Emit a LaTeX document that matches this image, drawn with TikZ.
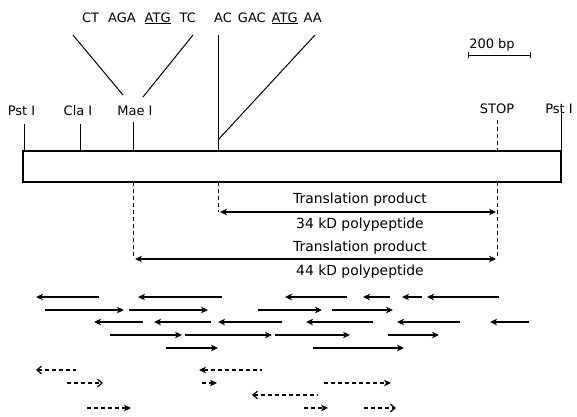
\documentclass[tikz,border=0pt]{standalone}
\usepackage{fontspec}
\setmainfont{DejaVu Sans}
\usetikzlibrary{arrows.meta}
\begin{document}
\begin{tikzpicture}[x=1pt,y=-1pt, line width=1pt,
  lab/.style={font=\fontsize{13}{14}\selectfont, inner sep=0pt, anchor=base},
  tl/.style={font=\fontsize{13.9}{15}\selectfont, inner sep=0pt, anchor=base},
  dsh/.style={dash pattern=on 4pt off 3pt},
  hd/.tip={Stealth[length=7pt,width=6.5pt,inset=2pt]},
  od/.tip={Straight Barb[length=4.5pt,width=7.5pt]},
  seqr/.style={line width=1.3pt,-hd},
  seql/.style={line width=1.3pt,hd-},
  dr/.style={line width=1.2pt,dsh,-hd},
  dl/.style={line width=1.2pt,dsh,hd-},
  dro/.style={line width=1.2pt,dsh,-od},
  dlo/.style={line width=1.2pt,dsh,od-},
  both/.style={line width=1.1pt,hd-hd}
]
\useasboundingbox (0,0) rectangle (577,416);

% sequence labels
\node[lab] (seqA) at (139,22) {\spaceskip=9pt CT AGA \underline{ATG} TC};
\node[lab] (seqB) at (268,22) {\spaceskip=6pt AC GAC \underline{ATG} AA};

% scale
\node[lab] (bp) at (492,48) {200 bp};
\coordinate (sbl) at (468,55);
\coordinate (sbr) at (530,55);
\draw (sbl) -- (sbr);
\draw (468,52) -- (468,58);
\draw (530,52) -- (530,58);

% site labels
\node[lab] (pstL) at (21.5,115) {Pst I};
\node[lab] (cla) at (78,115) {Cla I};
\node[lab] (mae) at (135,115) {Mae I};
\node[lab] (stop) at (497,113) {STOP};
\node[lab] (pstR) at (559,113) {Pst I};

% box
\coordinate (bTL) at (23,151);
\coordinate (bBR) at (561,182);
\draw[line width=1.1pt] (bTL) rectangle (bBR);

% ticks
\coordinate (pstLt) at (24,124);
\coordinate (pstLb) at (24,151);
\draw (pstLt) -- (pstLb);
\coordinate (clat) at (80,124);
\coordinate (clab) at (80,151);
\draw (clat) -- (clab);
\coordinate (maet) at (133,122);
\coordinate (maeb) at (133,151);
\draw (maet) -- (maeb);
\coordinate (pstRt) at (561,112);
\coordinate (pstRb) at (561,151);
\draw (pstRt) -- (pstRb);
\coordinate (stopt) at (497,120);
\coordinate (stopb) at (497,151);
\draw[dsh] (stopt) -- (stopb);
\coordinate (act) at (218,35);
\coordinate (acb) at (218,151);
\draw (act) -- (acb);

% diagonals
\coordinate (d1a) at (73,35);  \coordinate (d1b) at (123,95);
\coordinate (d2a) at (193,35); \coordinate (d2b) at (143,97);
\coordinate (d3a) at (218,140); \coordinate (d3b) at (315,35);
\draw (d1a) -- (d1b);
\draw (d2a) -- (d2b);
\draw (d3a) -- (d3b);

% dashed drops below the box
\coordinate (maeD1) at (133,182); \coordinate (maeD2) at (133,259);
\coordinate (acD1) at (218,182);  \coordinate (acD2) at (218,212);
\coordinate (stD1) at (497,182);  \coordinate (stD2) at (497,259);
\draw[dsh] (maeD1) -- (maeD2);
\draw[dsh] (acD1) -- (acD2);
\draw[dsh] (stD1) -- (stD2);

% translation products
\coordinate (p34a) at (220,212); \coordinate (p34b) at (496,212);
\coordinate (p44a) at (135,259); \coordinate (p44b) at (496,259);
\draw[both] (p34a) -- (p34b);
\draw[both] (p44a) -- (p44b);
\node[tl] (tp1) at (360,203) {Translation product};
\node[tl] (kd34) at (360,228) {34 kD polypeptide};
\node[tl] (tp2) at (360,251) {Translation product};
\node[tl] (kd44) at (360,275) {44 kD polypeptide};

% sequencing runs (solid)
\foreach \a/\b/\y in {36/99/297,138/222/297,285/347/297,363/390/297,402/422/297,427/499/297,
  94/143/322,154/211/322,218/282/322,306/373/322,397/460/322,490/529/322}
  \draw[seql] (\a,\y) -- (\b,\y);
\foreach \a/\b/\y in {45/124/310,129/208/310,258/322/310,332/393/310,
  110/182/335,185/272/335,275/350/335,388/439/335,166/218/348,313/404/348}
  \draw[seqr] (\a,\y) -- (\b,\y);

% sequencing runs (dashed)
\draw[dlo] (36,370) -- (76,370);
\draw[dl] (199,370) -- (262,370);
\draw[dro] (67,383) -- (103,383);
\draw[dr] (202,383) -- (217,383);
\draw[dr] (324,383) -- (391,383);
\draw[dlo] (252,395) -- (317,395);
\draw[dr] (87,408) -- (131,408);
\draw[dr] (304,408) -- (328,408);
\draw[dro] (364,408) -- (396,408);
\end{tikzpicture}
\end{document}
